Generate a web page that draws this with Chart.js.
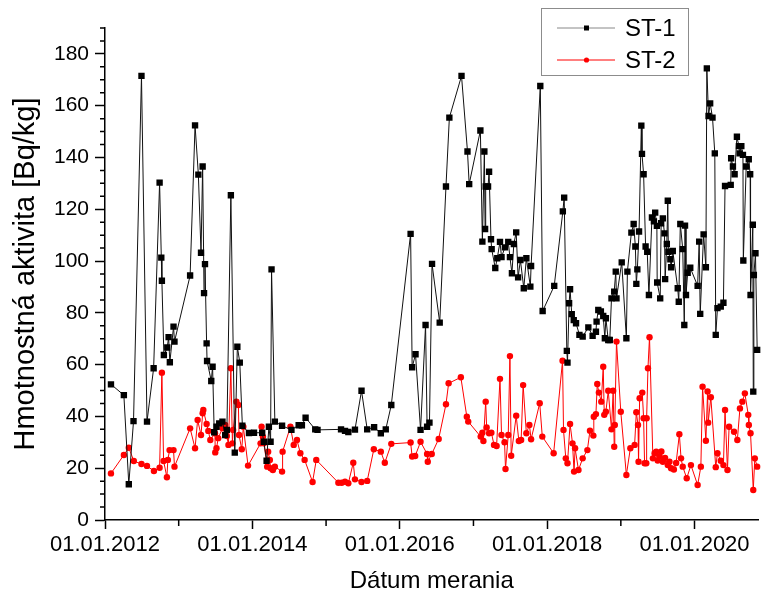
<!DOCTYPE html>
<html><head><meta charset="utf-8">
<script src="https://cdn.jsdelivr.net/npm/chart.js@4.4.1/dist/chart.umd.min.js"></script>
<style>html,body{margin:0;padding:0;background:#fff}canvas{display:block}</style>
</head><body>
<canvas id="c" width="763" height="601"></canvas>
<script>
// Dates as decimal years
const st1Dates = [2012.081,2012.256,2012.323,2012.387,2012.495,2012.570,2012.660,2012.741,2012.764,2012.772,2012.799,2012.845,2012.863,2012.880,2012.930,2012.943,
2013.155,2013.222,2013.267,2013.303,2013.325,2013.344,2013.357,2013.379,2013.385,2013.442,2013.460,2013.482,2013.513,2013.550,2013.594,2013.631,2013.654,2013.708,2013.761,2013.796,2013.829,2013.864,2013.954,
2014.022,2014.133,2014.156,2014.193,2014.224,2014.247,2014.260,2014.305,2014.403,2014.530,2014.628,2014.672,2014.722,2014.853,2014.884,
2015.203,2015.257,2015.302,2015.392,2015.481,2015.558,2015.652,2015.743,2015.810,2015.885,
2016.147,2016.168,2016.214,2016.282,2016.350,2016.371,2016.403,2016.438,2016.542,2016.627,2016.673,2016.838,2016.919,2016.942,
2017.094,2017.121,2017.148,2017.158,2017.166,2017.198,2017.212,2017.238,2017.247,2017.296,2017.323,2017.360,2017.381,2017.427,2017.472,2017.495,2017.522,2017.548,2017.580,2017.606,2017.637,2017.683,2017.718,2017.772,2017.782,2017.907,2017.939,
2018.096,2018.213,2018.231,2018.267,2018.276,2018.298,2018.311,2018.334,2018.361,2018.392,2018.438,2018.482,2018.559,2018.617,2018.662,2018.671,2018.694,2018.729,2018.761,2018.783,2018.797,2018.829,2018.850,2018.873,2018.910,2018.931,2018.941,
2019.012,2019.075,2019.089,2019.143,2019.174,2019.197,2019.210,2019.224,2019.247,2019.278,2019.287,2019.309,2019.336,2019.358,2019.381,2019.422,2019.449,2019.466,2019.489,2019.493,2019.534,2019.547,2019.570,2019.592,2019.601,2019.624,2019.637,2019.645,2019.672,2019.682,2019.705,2019.772,2019.786,2019.807,2019.840,2019.861,2019.871,2019.884,2019.907,2019.942,
2020.042,2020.063,2020.077,2020.123,2020.154,2020.167,2020.190,2020.212,2020.244,2020.275,2020.288,2020.311,2020.356,2020.392,2020.414,2020.491,2020.497,2020.521,2020.544,2020.575,2020.602,2020.612,2020.635,2020.657,2020.662,2020.701,2020.736,2020.755,2020.760,2020.791,2020.797,2020.805,2020.827,2020.850];
const st1Values = [52.4,48.2,13.8,38.2,171.5,38.0,58.6,130.3,101.3,92.4,63.7,66.6,70.6,60.9,74.7,68.9,
94.4,152.4,133.4,103.2,136.5,87.6,98.8,68.2,61.4,53.7,59.2,33.9,36.0,37.3,38.0,32.8,34.8,125.4,26.0,66.9,60.8,36.4,33.6,
33.7,33.7,30.2,22.9,36.0,30.2,96.8,38.0,36.4,34.8,36.6,36.6,39.5,35.0,34.8,
35.0,34.4,34.0,34.9,49.9,35.0,35.8,33.5,35.0,44.4,
110.5,59.0,64.0,34.8,75.3,36.0,37.6,98.9,76.2,128.8,155.4,171.5,142.3,129.7,
150.4,107.5,142.3,112.4,128.8,128.8,134.5,108.4,104.6,97.3,101.1,107.4,101.5,105.3,107.4,101.5,95.3,106.6,111.1,93.7,100.4,89.5,101.1,90.1,98.1,167.6,80.7,
90.4,119.2,124.5,65.3,60.8,83.7,89.1,79.5,77.2,76.0,71.5,70.8,74.4,71.1,72.7,76.6,81.1,80.5,78.8,70.2,77.9,69.5,69.5,85.6,88.2,95.9,85.6,
99.5,70.2,95.9,111.0,114.3,105.6,91.2,96.8,111.4,152.3,141.4,133.5,105.6,103.6,86.9,116.8,115.3,118.7,113.6,91.7,85.6,114.6,116.5,110.7,93.0,106.6,123.3,103.6,100.7,97.6,103.9,89.5,84.3,114.3,104.6,75.3,113.7,86.9,95.5,97.4,
90.4,107.5,79.6,110.3,97.6,174.4,156.0,160.9,155.4,141.6,71.5,81.8,82.4,83.9,129.0,129.4,139.7,136.5,133.5,148.0,144.4,141.6,144.4,141.0,100.2,136.5,139.3,133.5,86.9,114.0,49.6,94.6,103.0,65.7];

const st2Dates = [2012.081,2012.256,2012.323,2012.391,2012.495,2012.570,2012.664,2012.741,2012.772,2012.795,2012.840,2012.853,2012.876,2012.930,2012.943,
2013.155,2013.222,2013.257,2013.303,2013.325,2013.334,2013.379,2013.402,2013.429,2013.492,2013.496,2013.513,2013.536,2013.594,2013.631,2013.654,2013.675,2013.708,2013.729,2013.739,2013.783,2013.810,2013.819,2013.856,2013.877,2013.941,
2014.111,2014.125,2014.143,2014.156,2014.201,2014.214,2014.237,2014.247,2014.278,2014.305,2014.403,2014.410,2014.516,2014.561,2014.605,2014.651,2014.709,2014.817,2014.867,
2015.167,2015.212,2015.257,2015.302,2015.369,2015.392,2015.481,2015.558,2015.648,2015.743,2015.797,2015.885,
2016.147,2016.168,2016.209,2016.282,2016.371,2016.380,2016.434,2016.528,2016.627,2016.663,2016.829,2016.910,2016.929,
2017.098,2017.121,2017.135,2017.166,2017.179,2017.212,2017.243,2017.279,2017.314,2017.360,2017.381,2017.422,2017.435,2017.472,2017.495,2017.512,2017.580,2017.616,2017.647,2017.674,2017.718,2017.759,2017.782,2017.899,2017.934,
2018.088,2018.209,2018.222,2018.253,2018.276,2018.311,2018.344,2018.365,2018.379,2018.425,2018.482,2018.546,2018.581,2018.627,2018.633,2018.662,2018.680,2018.702,2018.735,2018.761,2018.775,2018.797,2018.829,2018.873,2018.896,2018.910,2018.918,2018.941,2018.999,
2019.075,2019.129,2019.187,2019.210,2019.233,2019.240,2019.255,2019.291,2019.309,2019.322,2019.345,2019.350,2019.368,2019.389,2019.435,2019.458,2019.480,2019.500,2019.524,2019.550,2019.570,2019.600,2019.637,2019.660,2019.682,2019.720,2019.750,2019.794,2019.817,2019.840,2019.894,2019.951,
2020.042,2020.086,2020.109,2020.154,2020.177,2020.185,2020.221,2020.288,2020.311,2020.356,2020.392,2020.414,2020.447,2020.469,2020.536,2020.581,2020.616,2020.649,2020.683,2020.729,2020.737,2020.760,2020.797,2020.818,2020.850];
const st2Values = [18.0,25.1,27.9,22.8,21.6,20.9,18.9,20.2,56.9,22.8,16.5,23.2,27.0,27.0,20.6,
35.4,27.7,38.6,32.8,41.2,42.5,37.1,34.4,30.9,33.5,26.1,27.7,31.6,35.4,36.7,32.4,29.0,58.6,29.6,34.8,45.7,44.4,32.8,27.3,36.0,21.0,
29.6,36.0,32.2,29.6,20.6,26.4,23.2,20.0,19.3,20.6,18.7,26.4,36.0,29.0,30.9,25.8,23.2,14.7,23.2,
14.4,14.4,14.8,14.2,22.1,15.7,14.7,15.1,27.3,26.4,22.1,29.4,
29.9,24.5,24.7,30.2,25.5,22.5,25.5,31.3,44.7,52.8,55.1,39.9,38.0,
32.2,33.7,30.5,45.7,35.7,33.5,33.7,29.0,28.6,54.5,32.8,30.0,19.7,32.8,63.3,24.8,40.3,30.5,30.9,52.1,33.5,36.7,31.2,45.1,32.2,
25.8,61.5,34.8,23.8,21.9,37.1,29.6,18.7,27.7,19.3,23.8,27.0,34.5,32.6,39.9,40.9,52.5,49.2,45.7,59.2,40.6,41.8,49.9,35.0,49.9,28.3,36.7,68.9,41.8,
17.4,27.7,29.0,41.6,36.7,22.5,47.0,49.2,39.3,21.9,21.9,39.3,58.6,70.6,23.8,25.8,26.4,23.0,24.5,26.5,22.5,24.0,21.2,22.5,20.0,19.5,22.0,33.1,23.8,20.6,16.1,21.2,
13.5,20.6,51.5,30.6,49.6,37.6,47.4,20.4,25.8,22.9,21.2,42.5,19.3,36.0,34.1,30.9,43.1,45.7,48.9,40.6,36.7,33.5,11.6,23.8,20.6];

const seriesNames = ['ST-1','ST-2'];
const xMajorYears = [2012,2014,2016,2018,2020];
const xMinorYears = [2013,2015,2017,2019];
const yMajorTicks = [0,20,40,60,80,100,120,140,160,180];
const yMinorStep = 5;
const xTitle = 'Dátum merania';
const yTitle = 'Hmotnostná aktivita [Bq/kg]';

const FONT = "'Liberation Sans', Arial, sans-serif";

const toXY = (xs, ys) => xs.map((x, i) => ({x, y: ys[i]}));

const minorTicks = {
  id: 'minorTicks',
  afterDraw(chart) {
    const {ctx, scales: {x, y}} = chart;
    ctx.save();
    ctx.strokeStyle = '#000';
    ctx.lineWidth = 1.5;
    ctx.beginPath();
    for (let v = y.min; v <= y.max + 1e-9; v += yMinorStep) {
      if (yMajorTicks.includes(v)) continue;
      const py = y.getPixelForValue(v);
      ctx.moveTo(x.left, py); ctx.lineTo(x.left - 5, py);
    }
    for (const v of xMinorYears) {
      const px = x.getPixelForValue(v);
      ctx.moveTo(px, y.bottom); ctx.lineTo(px, y.bottom + 6);
    }
    ctx.stroke();
    ctx.restore();
  }
};

const boxLegend = {
  id: 'boxLegend',
  afterDraw(chart) {
    const ctx = chart.ctx;
    const ds = chart.data.datasets;
    ctx.save();
    const bx = 541.5, by = 8.5, bw = 147, bh = 67;
    ctx.fillStyle = '#fff';
    ctx.fillRect(bx, by, bw, bh);
    ctx.strokeStyle = '#8c8c8c';
    ctx.lineWidth = 1;
    ctx.strokeRect(bx, by, bw, bh);
    const rows = [28, 60];
    ds.forEach((d, i) => {
      const yy = rows[i];
      ctx.strokeStyle = i === 0 ? '#888' : d.borderColor;
      ctx.lineWidth = 1;
      ctx.beginPath(); ctx.moveTo(557, yy); ctx.lineTo(615, yy); ctx.stroke();
      ctx.fillStyle = d.pointBackgroundColor;
      if (i === 0) { ctx.fillRect(584, yy - 2.5, 5, 5); }
      else { ctx.beginPath(); ctx.arc(586.5, yy, 2.6, 0, Math.PI * 2); ctx.fill(); }
      ctx.fillStyle = '#000';
      ctx.font = '24px ' + FONT;
      ctx.textBaseline = 'middle';
      ctx.textAlign = 'left';
      ctx.fillText(d.label, 625, yy + 1);
    });
    ctx.restore();
  }
};

new Chart(document.getElementById('c'), {
  type: 'line',
  data: {
    datasets: [
      { label: seriesNames[0], data: toXY(st1Dates, st1Values),
        borderColor: '#111', borderWidth: 1, pointStyle: 'rect', pointRadius: 4.5,
        pointBackgroundColor: '#000', pointBorderColor: '#000', pointBorderWidth: 0,
        tension: 0, clip: 8 },
      { label: seriesNames[1], data: toXY(st2Dates, st2Values),
        borderColor: '#ff0000', borderWidth: 1, pointStyle: 'circle', pointRadius: 3.2,
        pointBackgroundColor: '#ff0000', pointBorderColor: '#ff0000', pointBorderWidth: 0,
        tension: 0, clip: 8 }
    ]
  },
  options: {
    responsive: false, animation: false, devicePixelRatio: 1,
    layout: { padding: { top: 28, right: 0, left: 0, bottom: 0 } },
    plugins: { legend: { display: false }, tooltip: { enabled: false } },
    scales: {
      x: {
        type: 'linear', min: 2012, max: 2020.868,
        afterBuildTicks: s => { s.ticks = xMajorYears.map(v => ({ value: v })); },
        afterFit: s => { s.height = 81; },
        ticks: { autoSkip: false, maxRotation: 0, color: '#000', padding: 3,
          font: { family: FONT, size: 22 }, callback: v => '01.01.' + v },
        grid: { drawOnChartArea: false, drawTicks: true, tickLength: 9, tickColor: '#000', tickWidth: 1.5 },
        border: { display: true, color: '#000', width: 1.5 },
        title: { display: true, text: xTitle, color: '#000', font: { family: FONT, size: 24 }, padding: { top: 0, bottom: 5 } }
      },
      y: {
        type: 'linear', min: 0, max: 190,
        afterBuildTicks: s => { s.ticks = yMajorTicks.map(v => ({ value: v })); },
        afterFit: s => { s.width = 105; },
        ticks: { color: '#000', padding: 6, font: { family: FONT, size: 21 } },
        grid: { drawOnChartArea: false, drawTicks: true, tickLength: 10, tickColor: '#000', tickWidth: 1.5 },
        border: { display: true, color: '#000', width: 1.5 },
        title: { display: true, text: yTitle, color: '#000', font: { family: FONT, size: 29 }, padding: { top: 9, bottom: 0 } }
      }
    }
  },
  plugins: [minorTicks, boxLegend]
});
</script>
</body></html>
